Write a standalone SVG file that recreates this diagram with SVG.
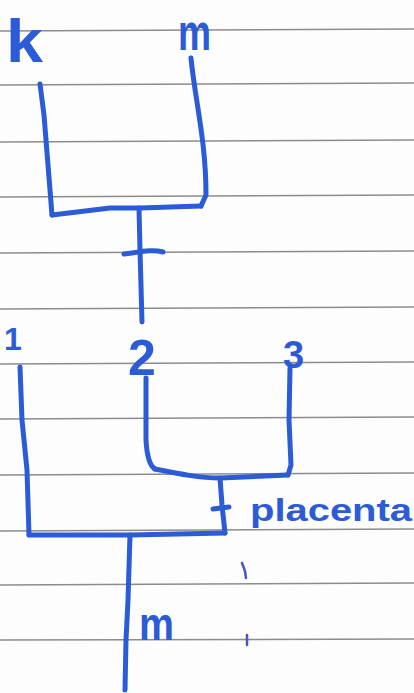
<svg xmlns="http://www.w3.org/2000/svg" width="414" height="693" viewBox="0 0 414 693">
<style>
.rule{stroke:#8c8c8c;stroke-width:1.5;fill:none}
.ink{stroke:#2b5bd6;stroke-width:5;fill:none;stroke-linecap:round;stroke-linejoin:round}
.lbl{fill:#2b5bd6;font-family:"Liberation Sans",Arial,sans-serif;font-weight:bold}
.speck{stroke:#4a55c0;stroke-width:2.5;fill:none;stroke-linecap:round}
</style>
<rect width="414" height="693" fill="#fdfdfd"/>
<g id="paper-rules">
<line class="rule" x1="0" y1="31" x2="414" y2="29"/>
<line class="rule" x1="0" y1="85" x2="414" y2="83"/>
<line class="rule" x1="0" y1="142" x2="414" y2="140"/>
<line class="rule" x1="0" y1="197" x2="414" y2="195"/>
<line class="rule" x1="0" y1="253" x2="414" y2="251"/>
<line class="rule" x1="0" y1="309" x2="414" y2="307"/>
<line class="rule" x1="0" y1="364" x2="414" y2="362"/>
<line class="rule" x1="0" y1="419" x2="414" y2="417"/>
<line class="rule" x1="0" y1="475" x2="414" y2="473"/>
<line class="rule" x1="0" y1="531" x2="414" y2="529"/>
<line class="rule" x1="0" y1="585" x2="414" y2="583"/>
<line class="rule" x1="0" y1="640" x2="414" y2="639"/>
</g>
<g id="connectors">
<path class="ink" d="M40,84 L44,115 L52,215"/>
<path class="ink" d="M191,58 C195,100 206,140 206,195 L201,206"/>
<path class="ink" d="M52,215 L110,208 L140,208 L201,206"/>
<path class="ink" d="M139,208 L140,250 L142,322"/>
<path class="ink" d="M124,254 C140,252 152,249 163,252"/>
<path class="ink" d="M20,367 L22,420 L27,470 L29,535"/>
<path class="ink" d="M146,378 L146,440 C147,458 150,466 155,469"/>
<path class="ink" d="M290,368 L289,420 L291,465 L288,475"/>
<path class="ink" d="M155,469 C180,474 200,478 220,478 L288,475"/>
<path class="ink" d="M220,478 L222,505 L225,533"/>
<path class="ink" d="M213,509 L229,507"/>
<path class="ink" d="M29,535 L130,535 L225,533"/>
<path class="ink" d="M130,535 L128,600 L126,640 L125,690"/>
</g>
<g id="node-k"><text class="lbl" x="6" y="62" font-size="62" textLength="37" lengthAdjust="spacingAndGlyphs">k</text></g>
<g id="node-m-top"><text class="lbl" x="178" y="50" font-size="52" textLength="33" lengthAdjust="spacingAndGlyphs">m</text></g>
<g id="node-1"><text class="lbl" x="4" y="350" font-size="32">1</text></g>
<g id="node-2"><text class="lbl" x="128" y="375" font-size="50">2</text></g>
<g id="node-3"><text class="lbl" x="283" y="368" font-size="38">3</text></g>
<g id="node-placenta"><text class="lbl" x="250" y="521" font-size="31" textLength="162" lengthAdjust="spacingAndGlyphs">placenta</text></g>
<g id="node-m-bottom"><text class="lbl" x="139" y="640" font-size="46" textLength="35" lengthAdjust="spacingAndGlyphs">m</text></g>
<g id="marks">
<path class="speck" d="M242,563 L245,571 L246,578"/>
<path class="speck" d="M247,635 L247,645"/>
</g>
</svg>
